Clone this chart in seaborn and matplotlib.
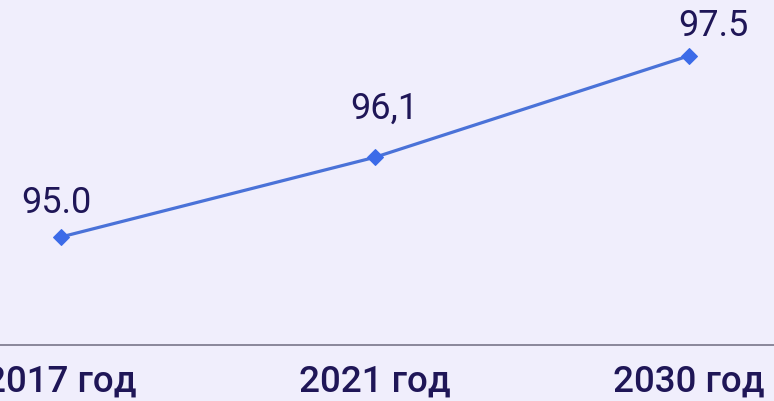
import matplotlib
matplotlib.use("Agg")
import matplotlib.pyplot as plt
import seaborn as sns
import pandas as pd

# data
years = ["2017 год", "2021 год", "2030 год"]
values = [95.0, 96.1, 97.5]
value_labels = ["95.0", "96,1", "97.5"]

bg = "#F0EEFC"
line_color = "#4A72D8"
marker_color = "#3C6BE8"
text_color = "#1F1657"

sns.set_theme(style="white")
plt.rcParams["font.family"] = ["Roboto", "DejaVu Sans"]

df = pd.DataFrame({"year": years, "value": values})

fig = plt.figure(figsize=(7.74, 4.01), dpi=100, facecolor=bg)
ax = fig.add_axes([0, 0.1397, 1, 0.8603])
ax.set_facecolor(bg)

sns.lineplot(data=df, x="year", y="value", ax=ax, color=line_color,
             linewidth=2.3, marker="D", markersize=8,
             markerfacecolor=marker_color, markeredgecolor=marker_color,
             sort=False)

ax.set_xlim(-0.194, 2.271)
ax.set_ylim(93.51, 98.27)

# label offsets in pixels (dx, dy to baseline)
offsets = [(-5, 24), (9, 39), (25, 20)]
for i, (v, lab) in enumerate(zip(values, value_labels)):
    dx, dy = offsets[i]
    ax.annotate(lab, (i, v), xytext=(dx * 0.72, dy * 0.72),
                textcoords="offset points", ha="center", va="baseline",
                fontsize=26, color=text_color)

ax.set_xlabel("")
ax.set_ylabel("")
ax.set_yticks([])
ax.tick_params(axis="x", length=0, pad=14, labelsize=26.5, labelcolor=text_color)
for t in ax.get_xticklabels():
    t.set_fontweight("medium")

for s in ["top", "left", "right"]:
    ax.spines[s].set_visible(False)
ax.spines["bottom"].set_color("#6E6B80")
ax.spines["bottom"].set_linewidth(1.1)

fig.savefig("out.png", dpi=100, facecolor=bg)
